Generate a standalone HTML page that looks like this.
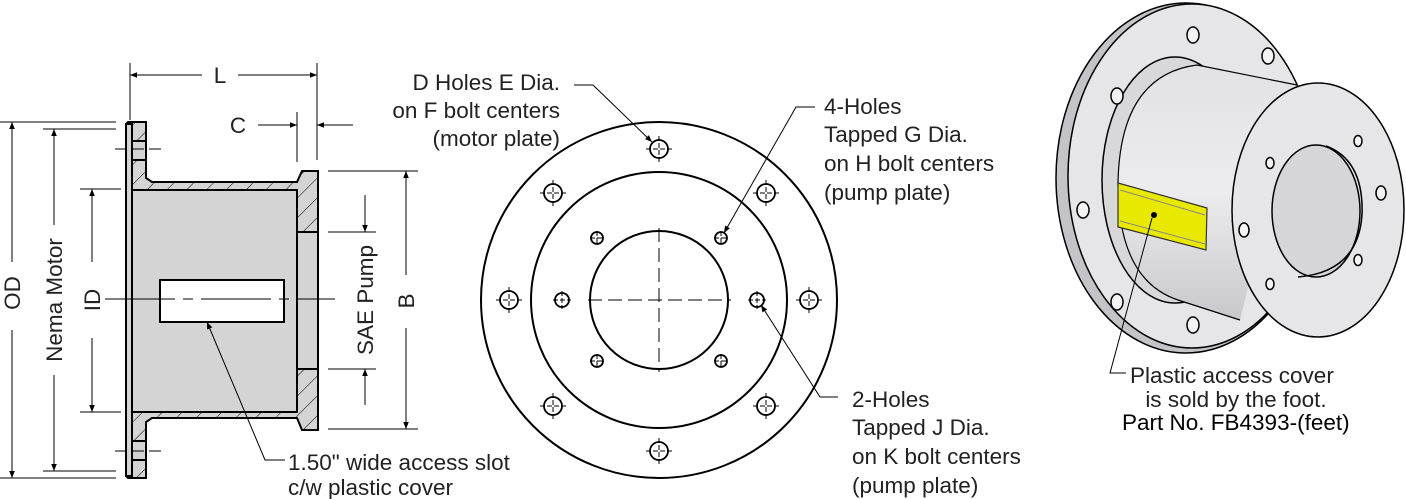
<!DOCTYPE html>
<html><head><meta charset="utf-8"><style>
html,body{margin:0;padding:0;background:#fff;width:1406px;height:499px;overflow:hidden}
text{font-family:"Liberation Sans",sans-serif;font-size:22.5px;fill:#222}
</style></head><body>
<svg width="1406" height="499" viewBox="0 0 1406 499" xmlns="http://www.w3.org/2000/svg">
<defs>
<marker id="a" viewBox="0 0 10 10" refX="10" refY="5" markerWidth="12" markerHeight="7" orient="auto-start-reverse" markerUnits="userSpaceOnUse"><path d="M0,1 L10,5 L0,9 z" fill="#000"/></marker>
<marker id="b" viewBox="0 0 10 10" refX="10" refY="5" markerWidth="16" markerHeight="7" orient="auto" markerUnits="userSpaceOnUse"><path d="M0,1 L10,5 L0,9 z" fill="#000"/></marker>
<linearGradient id="g" x1="0" y1="0" x2="0" y2="1"><stop offset="0" stop-color="#e2e2e5"/><stop offset="0.5" stop-color="#ececee"/><stop offset="1" stop-color="#c8c8cc"/></linearGradient>
<pattern id="h" width="14" height="14" patternUnits="userSpaceOnUse" patternTransform="rotate(45)"><rect width="14" height="14" fill="#d4d4d4"/><line x1="0" y1="0" x2="0" y2="14" stroke="#000" stroke-width="1"/></pattern>
</defs>

<!-- LEFT SECTION VIEW -->
<g stroke="#000" fill="none" stroke-width="1">
  <line x1="130" y1="63" x2="130" y2="120"/>
  <line x1="317" y1="63" x2="317" y2="160"/>
  <line x1="297" y1="112" x2="297" y2="162"/>
  <line x1="130" y1="75" x2="202" y2="75" marker-start="url(#a)"/>
  <line x1="238" y1="75" x2="317" y2="75" marker-end="url(#a)"/>
  <line x1="258" y1="125" x2="297" y2="125" marker-end="url(#a)"/>
  <line x1="353" y1="125" x2="317" y2="125" marker-end="url(#a)"/>
  <line x1="0" y1="122" x2="116" y2="122"/>
  <line x1="0" y1="478" x2="116" y2="478"/>
  <line x1="12" y1="122" x2="12" y2="262" marker-start="url(#a)"/>
  <line x1="12" y1="330" x2="12" y2="478" marker-end="url(#a)"/>
  <line x1="43" y1="129" x2="116" y2="129"/>
  <line x1="43" y1="471" x2="116" y2="471"/>
  <line x1="54" y1="129" x2="54" y2="225" marker-start="url(#a)"/>
  <line x1="54" y1="375" x2="54" y2="471" marker-end="url(#a)"/>
  <line x1="80" y1="189" x2="121" y2="189"/>
  <line x1="80" y1="412" x2="121" y2="412"/>
  <line x1="92" y1="189" x2="92" y2="262" marker-start="url(#a)"/>
  <line x1="92" y1="338" x2="92" y2="412" marker-end="url(#a)"/>
  <line x1="328" y1="171" x2="418" y2="171"/>
  <line x1="328" y1="429" x2="418" y2="429"/>
  <line x1="406" y1="171" x2="406" y2="275" marker-start="url(#a)"/>
  <line x1="406" y1="328" x2="406" y2="429" marker-end="url(#a)"/>
  <line x1="328" y1="232" x2="376" y2="232"/>
  <line x1="328" y1="369" x2="376" y2="369"/>
  <line x1="365" y1="195" x2="365" y2="232" marker-end="url(#a)"/>
  <line x1="365" y1="405" x2="365" y2="369" marker-end="url(#a)"/>
</g>
<g stroke="#000" stroke-width="2">
  <path d="M126,124 L128,122 L146,122 L146,178 L152,182 L297,182 L302,171 L318,171 L318,430 L302,430 L297,418 L152,418 L146,422 L146,478 L128,478 L126,476 Z" fill="url(#h)"/>
  <rect x="132" y="190" width="165" height="222" fill="#d4d4d4"/>
  <rect x="297" y="232" width="21" height="137" fill="#d4d4d4"/>
  <rect x="126" y="124" width="6" height="352" fill="#d4d4d4"/>
  <rect x="132" y="141" width="14" height="19" fill="#d4d4d4"/>
  <rect x="132" y="441" width="14" height="19" fill="#d4d4d4"/>
  <rect x="160" y="280" width="124" height="42" fill="#fff"/>
</g>
<g stroke="#000" stroke-width="1" fill="none">
  <line x1="115" y1="149" x2="162" y2="149" stroke-dasharray="12,5"/>
  <line x1="115" y1="451" x2="162" y2="451" stroke-dasharray="12,5"/>
  <line x1="105" y1="299" x2="335" y2="299" stroke-dasharray="70,8,10,8"/>
  <path d="M285,460 L265,460 L207,322" marker-end="url(#b)"/>
</g>
<text transform="translate(20,293) rotate(-90)" text-anchor="middle">OD</text>
<text transform="translate(62,300) rotate(-90)" text-anchor="middle">Nema Motor</text>
<text transform="translate(100,300) rotate(-90)" text-anchor="middle">ID</text>
<text transform="translate(373,300) rotate(-90)" text-anchor="middle">SAE Pump</text>
<text transform="translate(414,301) rotate(-90)" text-anchor="middle">B</text>
<text x="220" y="83" text-anchor="middle">L</text>
<text x="238" y="133" text-anchor="middle">C</text>
<text x="288" y="470">1.50" wide access slot</text>
<text x="288" y="495">c/w plastic cover</text>

<!-- CENTER VIEW -->
<g stroke="#000" fill="none" stroke-width="2">
  <circle cx="659" cy="300" r="178"/>
  <circle cx="659" cy="300" r="128"/>
  <circle cx="659" cy="300" r="69"/>
</g>
<g stroke="#000" fill="none" stroke-width="1">
  <line x1="659" y1="228" x2="659" y2="372" stroke-dasharray="14,6"/>
  <line x1="588" y1="300" x2="731" y2="300" stroke-dasharray="14,6"/>
</g>
<g stroke="#000" fill="none" stroke-width="1.8">
  <circle cx="659" cy="149" r="9"/><circle cx="553" cy="193" r="9"/><circle cx="766" cy="193" r="9"/>
  <circle cx="509" cy="300" r="9"/><circle cx="809" cy="300" r="9"/>
  <circle cx="553" cy="406" r="9"/><circle cx="766" cy="406" r="9"/><circle cx="659" cy="451" r="9"/>
  <circle cx="597" cy="238" r="6"/><circle cx="721" cy="238" r="6"/>
  <circle cx="597" cy="361" r="6"/><circle cx="721" cy="361" r="6"/>
  <circle cx="562" cy="300" r="7"/><circle cx="757" cy="300" r="7"/>
</g>
<g stroke="#000" stroke-width="1">
  <path d="M646,149h26M659,136v26M540,193h26M553,180v26M753,193h26M766,180v26M496,300h26M509,287v26M796,300h26M809,287v26M540,406h26M553,393v26M753,406h26M766,393v26M646,451h26M659,438v26M590,238h14M597,231v14M714,238h14M721,231v14M590,361h14M597,354v14M714,361h14M721,354v14M553,300h18M562,291v18M748,300h18M757,291v18" stroke-dasharray="5,2"/>
  <path d="M574,85 L593,85 L652,142" fill="none" marker-end="url(#b)"/>
  <path d="M815,107 L796,107 L724,233" fill="none" marker-end="url(#b)"/>
  <path d="M838,397 L820,397 L761,305" fill="none" marker-end="url(#b)"/>
</g>
<text x="560" y="90" text-anchor="end">D Holes E Dia.</text>
<text x="560" y="118" text-anchor="end">on F bolt centers</text>
<text x="560" y="146" text-anchor="end">(motor plate)</text>
<text x="824" y="114">4-Holes</text>
<text x="824" y="142">Tapped G Dia.</text>
<text x="824" y="171">on H bolt centers</text>
<text x="824" y="200">(pump plate)</text>
<text x="852" y="407">2-Holes</text>
<text x="852" y="435">Tapped J Dia.</text>
<text x="852" y="464">on K bolt centers</text>
<text x="852" y="493">(pump plate)</text>

<!-- 3D VIEW -->
<g stroke="#000" stroke-width="1.5">
  <ellipse cx="1186" cy="178" rx="130" ry="175" fill="#c4c4c8"/>
  <ellipse cx="1192" cy="176" rx="124" ry="172" fill="#e6e6e8"/>
  <ellipse cx="1175" cy="180" rx="73" ry="123" fill="#d8d8db"/>
  <path d="M1197,65 L1297,85 L1240,320 L1178,300 Q1118,280 1118,183 Q1120,75 1197,65 Z" fill="url(#g)" stroke="none"/>
  <path d="M1197,65 L1297,85 M1178,300 L1240,320 M1178,300 Q1118,280 1118,183 Q1120,75 1197,65" fill="none" stroke-width="1.2"/>
  <ellipse cx="1318" cy="210" rx="86" ry="127" fill="#e6e6e8"/>
  <ellipse cx="1316" cy="211" rx="44" ry="66" fill="#d6d6d9"/>
  <path d="M1326,146 Q1364,160 1362,215 Q1358,272 1298,277" fill="none"/>
  <polygon points="1118,183 1207,208 1206,250 1118,227" fill="#e8e800" stroke="#333" stroke-width="1.2"/>
  <path d="M1120,190 L1205,215 M1120,221 L1205,244" stroke="#888" stroke-width="1"/>
</g>
<g stroke="#000" stroke-width="1.5" fill="#f4f4f4">
  <ellipse cx="1193" cy="35" rx="6" ry="8"/><ellipse cx="1268" cy="56" rx="6" ry="8"/>
  <ellipse cx="1117" cy="96" rx="6" ry="8"/><ellipse cx="1083" cy="210" rx="6" ry="8"/>
  <ellipse cx="1117" cy="302" rx="6" ry="8"/><ellipse cx="1193" cy="325" rx="6" ry="8"/>
  <ellipse cx="1270" cy="163" rx="4" ry="5.5"/><ellipse cx="1358" cy="141" rx="4" ry="5.5"/>
  <ellipse cx="1381" cy="193" rx="5" ry="7"/><ellipse cx="1244" cy="230" rx="5" ry="7"/>
  <ellipse cx="1358" cy="260" rx="4" ry="5.5"/><ellipse cx="1270" cy="284" rx="4" ry="5.5"/>
</g>
<circle cx="1154" cy="215" r="3" fill="#000"/>
<path d="M1152,218 L1110,373 L1126,373" stroke="#000" stroke-width="1" fill="none"/>
<text x="1130" y="383">Plastic access cover</text>
<text x="1236" y="407" text-anchor="middle">is sold by the foot.</text>
<text x="1122" y="430" style="fill:#000">Part No. FB4393-(feet)</text>
</svg>
</body></html>
